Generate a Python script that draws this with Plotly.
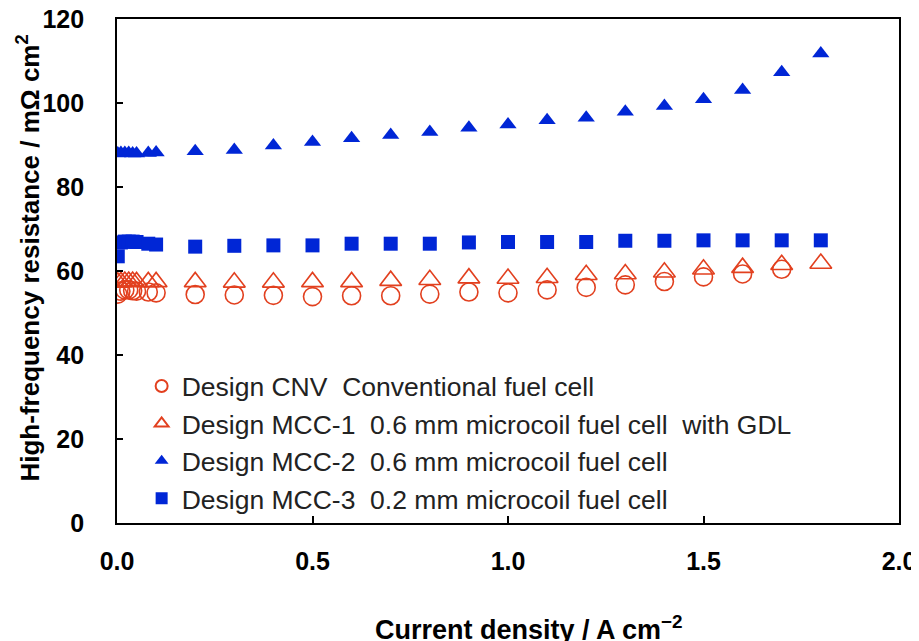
import plotly.graph_objects as go

# ---- data ----
x_low = [0.002, 0.01, 0.02, 0.03, 0.04, 0.05, 0.08, 0.1]
x_main = [0.2, 0.3, 0.4, 0.5, 0.6, 0.7, 0.8, 0.9, 1.0, 1.1, 1.2, 1.3, 1.4, 1.5, 1.6, 1.7, 1.8]

cnv_x = x_low + x_main[:-1]
cnv_y = [54.5, 55.2, 55.5, 55.5, 55.3, 55.2, 55.0, 54.8,
         54.4, 54.3, 54.2, 53.9, 54.1, 54.1, 54.5, 55.0, 54.8, 55.5, 56.1, 56.7, 57.5, 58.6, 59.3, 60.4]

mcc1_x = x_low + x_main
mcc1_y = [57.3, 57.4, 57.5, 57.5, 57.5, 57.4, 57.4, 57.4,
          57.4, 57.3, 57.3, 57.4, 57.4, 57.7, 57.9, 58.3, 58.2, 58.4, 59.1, 59.3, 59.7, 60.4, 60.8, 61.5, 61.8]

mcc2_x = x_low + x_main
mcc2_y = [88.0, 88.1, 88.1, 88.1, 88.0, 88.0, 88.1, 88.2,
          88.5, 88.8, 89.9, 90.7, 91.6, 92.4, 93.1, 94.1, 94.9, 95.9, 96.5, 97.9, 99.3, 100.9, 103.1, 107.3, 111.8]

mcc3_x = x_low + x_main
mcc3_y = [63.5, 66.8, 67.0, 67.0, 67.0, 66.9, 66.5, 66.3,
          65.8, 66.0, 66.1, 66.1, 66.5, 66.5, 66.5, 66.8, 66.9, 66.9, 66.9, 67.2, 67.2, 67.3, 67.3, 67.3, 67.3]

names = [
    "Design CNV\u00a0\u00a0Conventional fuel cell",
    "Design MCC-1\u00a0\u00a00.6 mm microcoil fuel cell\u00a0\u00a0with GDL",
    "Design MCC-2\u00a0\u00a00.6 mm microcoil fuel cell",
    "Design MCC-3\u00a0\u00a00.2 mm microcoil fuel cell",
]

x_ticks = [0.0, 0.5, 1.0, 1.5, 2.0]
x_tick_labels = ["0.0", "0.5", "1.0", "1.5", "2.0"]
y_ticks = [0, 20, 40, 60, 80, 100, 120]
y_tick_labels = ["0", "20", "40", "60", "80", "100", "120"]

x_title = "Current density / A cm<sup>\u22122</sup>"
y_title = "High-frequency resistance / m\u03a9 cm<sup>2</sup>"

RED = "#E2401F"
BLUE = "#0026D6"
FONT = "Liberation Sans, Arial, sans-serif"

fig = go.Figure()
fig.add_trace(go.Scatter(x=cnv_x, y=cnv_y, mode="markers", name=names[0], legendgroup="a",
                         marker=dict(symbol="circle-open", size=18, color=RED, line=dict(width=1.6, color=RED))))
fig.add_trace(go.Scatter(x=mcc1_x, y=mcc1_y, mode="markers", name=names[1], legendgroup="b",
                         marker=dict(symbol="triangle-up-open", size=19, color=RED, line=dict(width=1.6, color=RED))))
fig.add_trace(go.Scatter(x=mcc2_x, y=mcc2_y, mode="markers", name=names[2], legendgroup="c",
                         marker=dict(symbol="triangle-up", size=15, color=BLUE, line=dict(width=0))))
fig.add_trace(go.Scatter(x=mcc3_x, y=mcc3_y, mode="markers", name=names[3], legendgroup="d",
                         marker=dict(symbol="square", size=14, color=BLUE, line=dict(width=0))))

fig.update_layout(
    width=911, height=633,
    margin=dict(l=109, r=20, t=11, b=118, autoexpand=False),
    paper_bgcolor="white", plot_bgcolor="white",
    font=dict(family=FONT, color="#111111"),
    showlegend=True,
    legend=dict(
        x=0.0315, y=0.319, xanchor="left", yanchor="top",
        bgcolor="rgba(0,0,0,0)", borderwidth=0,
        font=dict(size=26.5, color="#222222", family=FONT),
        tracegroupgap=0,
        itemsizing="constant",
    ),
    xaxis=dict(
        range=[0, 2.0], tickvals=x_ticks, ticktext=x_tick_labels,
        showgrid=False, zeroline=False, automargin=False,
        showline=True, linecolor="black", linewidth=2, mirror=True,
        ticks="inside", ticklen=7, tickwidth=2, tickcolor="black",
        ticklabelstandoff=15, ticklabeloverflow="allow",
        tickfont=dict(size=25, family=FONT, color="black", weight="bold"),
    ),
    yaxis=dict(
        range=[0, 120], tickvals=y_ticks,
        ticktext=[t + "\u00a0\u00a0\u00a0\u2009" for t in y_tick_labels],
        showgrid=False, zeroline=False, automargin=False,
        showline=True, linecolor="black", linewidth=2, mirror=True,
        ticks="inside", ticklen=6, tickwidth=2, tickcolor="black",
        ticklabeloverflow="allow",
        tickfont=dict(size=25, family=FONT, color="black", weight="bold"),
    ),
    annotations=[
        dict(text=x_title, xref="paper", yref="paper", x=0.527, y=-0.208,
             xanchor="center", yanchor="middle", showarrow=False,
             font=dict(size=27, family=FONT, color="black", weight="bold")),
        dict(text=y_title, xref="paper", yref="paper", x=-0.113, y=0.526, textangle=-90,
             xanchor="center", yanchor="middle", showarrow=False,
             font=dict(size=26, family=FONT, color="black", weight="bold")),
    ],
)

fig.write_html("out.html")
